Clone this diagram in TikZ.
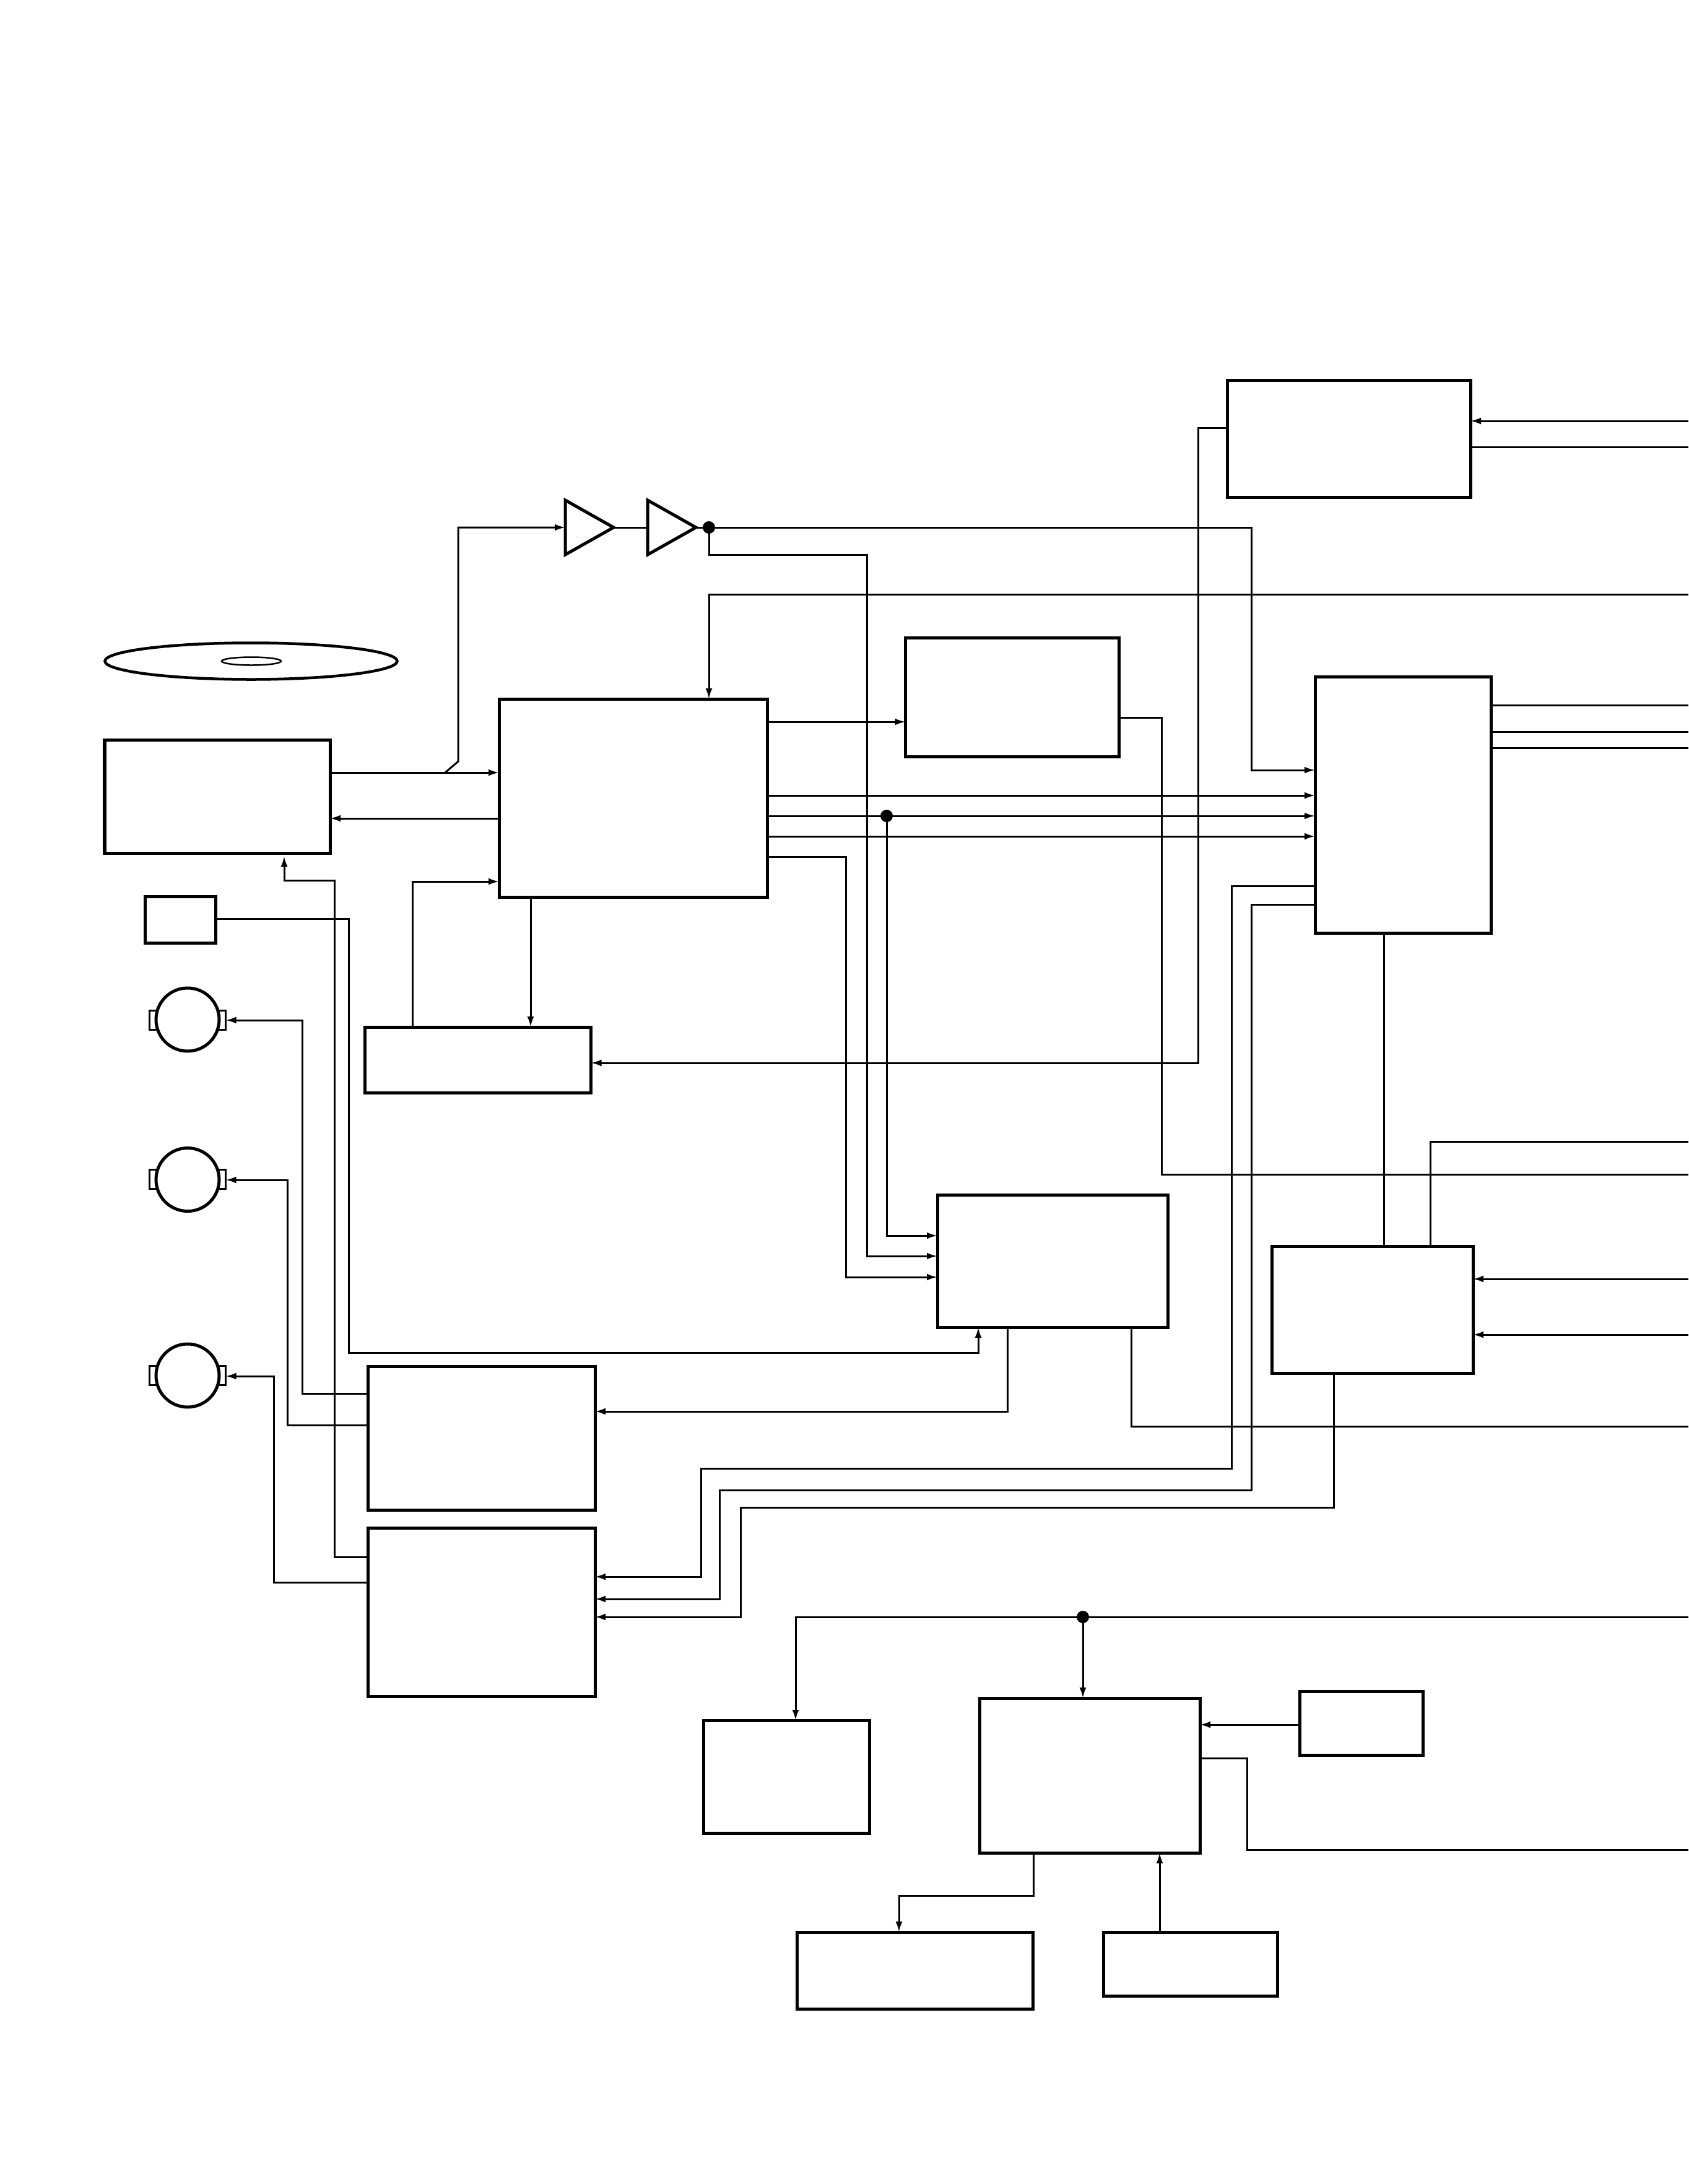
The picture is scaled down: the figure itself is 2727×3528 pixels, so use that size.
\documentclass[tikz,border=0pt]{standalone}
\usepackage{tikz}
\usetikzlibrary{arrows.meta,shapes}
\tikzset{
  blockbox/.style={draw,rectangle,line width=5bp,outer sep=0pt,inner sep=0pt},
  motorbody/.style={draw,circle,fill=white,line width=5bp,outer sep=0pt,inner sep=0pt,minimum size=102bp},
  motorcap/.style={draw,rectangle,line width=3bp,outer sep=0pt,inner sep=0pt,minimum width=123bp,minimum height=31bp},
  ampbox/.style={draw,isosceles triangle,isosceles triangle apex angle=60,isosceles triangle stretches,line width=5bp,outer sep=0pt,inner sep=0pt,minimum width=88bp,minimum height=78bp,anchor=apex},
  joint/.style={draw,circle,fill,outer sep=0pt,inner sep=0pt,minimum size=17bp},
}
\begin{document}
\begin{tikzpicture}[x=1bp,y=-1bp,>={Latex[length=17bp,width=11bp]},line join=miter,line width=3bp]
\useasboundingbox (0,0) rectangle (2727,3528);
%%
\node (disc) at (405.5,1068) [draw,ellipse,line width=4.5bp,inner sep=0pt,minimum width=472bp,minimum height=59bp] {};
  \node (hole) at (406,1068) [draw,ellipse,line width=2.5bp,inner sep=0pt,minimum width=96bp,minimum height=13bp] {};
  \node (sled) at (351,1286.5) [blockbox,minimum width=364bp,minimum height=183bp] {};
  \node (rf) at (1022.5,1289) [blockbox,minimum width=433bp,minimum height=320bp] {};
  \node (mem) at (1635,1126) [blockbox,minimum width=345bp,minimum height=192bp] {};
  \node (dsp) at (2266,1300) [blockbox,minimum width=284bp,minimum height=414bp] {};
  \node (top) at (2178.5,708.5) [blockbox,minimum width=393bp,minimum height=189bp] {};
  \node (servo) at (772,1712) [blockbox,minimum width=365bp,minimum height=106bp] {};
  \node (ctrl) at (1700,2037) [blockbox,minimum width=372bp,minimum height=214bp] {};
  \node (dac) at (2216.5,2116) [blockbox,minimum width=325bp,minimum height=205bp] {};
  \node (drv1) at (777.5,2323) [blockbox,minimum width=367bp,minimum height=232bp] {};
  \node (drv2) at (777.5,2604.5) [blockbox,minimum width=367bp,minimum height=272bp] {};
  \node (lowa) at (1270,2870) [blockbox,minimum width=268bp,minimum height=182bp] {};
  \node (micon) at (1760,2868) [blockbox,minimum width=356bp,minimum height=250bp] {};
  \node (clock) at (2198.5,2783.5) [blockbox,minimum width=199bp,minimum height=103bp] {};
  \node (lowb) at (1477.5,3183) [blockbox,minimum width=381bp,minimum height=124bp] {};
  \node (keys) at (1922.5,3172.5) [blockbox,minimum width=281bp,minimum height=103bp] {};
  \node (limit) at (291,1485.5) [blockbox,minimum width=114bp,minimum height=75bp] {};
  \node (capa) at (303,1647.5) [motorcap] {};
  \node (capb) at (303,1905) [motorcap] {};
  \node (capc) at (303,2221.5) [motorcap] {};
  \node (mota) at (303,1647) [motorbody] {};
  \node (motb) at (303,1905.5) [motorbody] {};
  \node (motc) at (303,2222) [motorbody] {};
  \node (amp1) at (991,852) [ampbox] {};
  \node (amp2) at (1124,852) [ampbox] {};
  \node (dot1) at (1145,852) [joint] {};
  \node (dot2) at (1432,1318) [joint] {};
  \node (dot3) at (1749,2612) [joint] {};
  \coordinate (tap) at (719,1248);
  \coordinate (e1) at (2727,680);
  \coordinate (e2) at (2727,722);
  \coordinate (e3) at (2727,960);
  \coordinate (e4) at (2727,1139);
  \coordinate (e5) at (2727,1182);
  \coordinate (e6) at (2727,1208);
  \coordinate (e7) at (2727,1844);
  \coordinate (e8) at (2727,1897);
  \coordinate (e9) at (2727,2066);
  \coordinate (e10) at (2727,2156);
  \coordinate (e11) at (2727,2304);
  \coordinate (e12) at (2727,2612);
  \coordinate (e13) at (2727,2988);
  \draw [->] (sled.east |- 0,1248) -- (rf.west |- 0,1248);
  \draw [->] (rf.west |- 0,1322) -- (sled.east |- 0,1322);
  \draw [->] (tap) -- (740,1230) -- (740,852) -- (amp1.west);
  \draw (amp1.apex) -- (amp2.west);
  \draw (amp2.apex) -- (dot1);
  \draw [->] (dot1) -- (2021,852) -- (2021,1244) -- (dsp.west |- 0,1244);
  \draw [->] (dot1) |- (1400,896) -- (1400,2029) -- (ctrl.west |- 0,2029);
  \draw [->] (e3) -- (1145,960) -- (rf.north -| 1145,0);
  \draw [->] (rf.east |- 0,1166) -- (mem.west |- 0,1166);
  \draw (mem.east |- 0,1159) -- (1876,1159) -- (1876,1897) -- (e8);
  \draw [->] (rf.east |- 0,1285) -- (dsp.west |- 0,1285);
  \draw [->] (rf.east |- 0,1318) -- (dsp.west |- 0,1318);
  \draw [->] (rf.east |- 0,1351) -- (dsp.west |- 0,1351);
  \draw [->] (dot2) |- (ctrl.west |- 0,1996);
  \draw [->] (rf.east |- 0,1384) -- (1366,1384) -- (1366,2063) -- (ctrl.west |- 0,2063);
  \draw [->] (rf.south -| 857,0) -- (servo.north -| 857,0);
  \draw [->] (servo.north -| 666,0) -- (666,1424) -- (rf.west |- 0,1424);
  \draw [->] (top.west |- 0,691) -- (1935,691) -- (1935,1717) -- (servo.east |- 0,1717);
  \draw [->] (e1) -- (top.east |- 0,680);
  \draw (top.east |- 0,722) -- (e2);
  \draw (dsp.east |- 0,1139) -- (e4);
  \draw (dsp.east |- 0,1182) -- (e5);
  \draw (dsp.east |- 0,1208) -- (e6);
  \draw (dsp.south -| 2235,0) -- (dac.north -| 2235,0);
  \draw (dac.north -| 2310,0) -- (2310,1844) -- (e7);
  \draw [->] (e9) -- (dac.east |- 0,2066);
  \draw [->] (e10) -- (dac.east |- 0,2156);
  \draw [->] (limit.east |- 0,1484) -- (563,1484) -- (563,2185) -- (1580,2185) -- (ctrl.south -| 1580,0);
  \draw [->,shorten >=5bp] (drv2.west |- 0,2515) -- (540,2515) -- (540,1422) -- (459,1422) -- (sled.south -| 459,0);
  \draw [->] (ctrl.south -| 1627,0) -- (1627,2280) -- (drv1.east |- 0,2280);
  \draw (ctrl.south -| 1827,0) -- (1827,2304) -- (e11);
  \draw [->] (drv1.west |- 0,2251) -- (488,2251) -- (488,1648) -- (capa.east |- 0,1648);
  \draw [->] (drv1.west |- 0,2302) -- (464,2302) -- (464,1906) -- (capb.east |- 0,1906);
  \draw [->] (drv2.west |- 0,2556) -- (442,2556) -- (442,2223) -- (capc.east |- 0,2223);
  \draw [->] (dsp.west |- 0,1431) -- (1989,1431) -- (1989,2372) -- (1132,2372) -- (1132,2547) -- (drv2.east |- 0,2547);
  \draw [->] (dsp.west |- 0,1461) -- (2021,1461) -- (2021,2407) -- (1162,2407) -- (1162,2583) -- (drv2.east |- 0,2583);
  \draw [->] (dac.south -| 2154,0) -- (2154,2435) -- (1196,2435) -- (1196,2612) -- (drv2.east |- 0,2612);
  \draw [->] (e12) -- (1285,2612) -- (lowa.north -| 1285,0);
  \draw [->] (dot3) -- (micon.north -| 1749,0);
  \draw [->] (clock.west |- 0,2786) -- (micon.east |- 0,2786);
  \draw (micon.east |- 0,2840) -- (2014,2840) -- (2014,2988) -- (e13);
  \draw [->] (micon.south -| 1669,0) -- (1669,3062) -- (1452,3062) -- (lowb.north -| 1452,0);
  \draw [->] (keys.north -| 1873,0) -- (micon.south -| 1873,0);
%
\end{tikzpicture}
\end{document}
